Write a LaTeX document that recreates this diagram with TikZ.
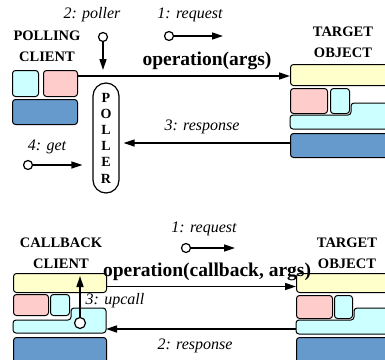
\documentclass[tikz,border=0pt]{standalone}
\usepackage{fontspec}
\setmainfont{Liberation Serif}
\usetikzlibrary{arrows.meta}

\definecolor{lcyan}{RGB}{204,255,255}
\definecolor{lpink}{RGB}{255,204,204}
\definecolor{lblue}{RGB}{102,153,204}
\definecolor{lyellow}{RGB}{255,255,204}

\begin{document}
\begin{tikzpicture}[x=1pt,y=-1pt,
    box/.style={draw,rounded corners=3pt,inner sep=0pt,anchor=north west,line width=1pt},
    port/.style={draw,circle,fill=white,inner sep=0pt,minimum size=9pt,line width=1.2pt},
    arr/.style={line width=1.4pt,-{Triangle[length=11pt,width=7pt]}},
    lbl/.style={font=\fontsize{16}{18}\selectfont\itshape,inner sep=0pt},
    ttl/.style={font=\fontsize{14.5}{21}\selectfont\bfseries,align=center,inner sep=0pt},
    optext/.style={font=\fontsize{19.5}{20}\selectfont\bfseries,inner sep=0pt}]
  \useasboundingbox (0,0) rectangle (385,359);
  \clip (0,0) rectangle (385,359);

  % ---------- polling model ----------
  % Client
  \node[ttl] (pclient) at (47,46) {POLLING\\CLIENT};
  \node[box,fill=lcyan,minimum width=26pt,minimum height=26pt] (pcyan) at (12,70) {};
  \node[box,fill=lpink,minimum width=34pt,minimum height=26pt] (ppink) at (43,70) {};
  \node[box,fill=lblue,minimum width=65pt,minimum height=25pt] (pblue) at (12,99) {};

  % Target object
  \node[ttl] (ptarget) at (343,42) {TARGET\\OBJECT};
  \node[box,fill=lyellow,minimum width=110pt,minimum height=21pt] (ptyellow) at (290,64) {};
  \node[box,fill=lpink,minimum width=37pt,minimum height=25pt] (ptpink) at (290,88) {};
  \node[box,fill=lcyan,minimum width=19pt,minimum height=25pt] (ptcyan) at (330,88) {};
  \draw[fill=lcyan,rounded corners=3pt,line width=1pt]
    (290,129) -- (290,115) -- (351,115) -- (351,103) -- (405,103) -- (405,129) -- cycle;
  \node[box,fill=lblue,minimum width=110pt,minimum height=24pt] (ptblue) at (290,133) {};

  % Poller
  \node[draw,rounded corners=13pt,line width=1.2pt,minimum width=26pt,minimum height=110pt,
        inner sep=0pt,align=center,font=\fontsize{14}{16.2}\selectfont\bfseries]
    (poller) at (106,138) {P\\O\\L\\L\\E\\R};

  % Operation
  \node[optext] (popname) at (207,61) {operation(args)};
  \draw[arr] (ppink.east |- 0,76) -- (ptyellow.west |- 0,76);

  % 1: request
  \node[lbl] (preqlbl) at (190,15) {1: request};
  \node[port] (preq) at (169,36) {};
  \coordinate (preqend) at (223,36);
  \draw[arr] (preq) -- (preqend);

  % 2: poller
  \node[lbl] (ppolllbl) at (92,15) {2: poller};
  \node[port] (ppoll) at (103,37) {};
  \coordinate (ppollend) at (103,70);
  \draw[arr] (ppoll) -- (ppollend);

  % 3: response
  \node[lbl] (presplbl) at (202,127) {3: response};
  \draw[arr,shorten >=4pt] (ptblue.west |- 0,143) -- (poller.east |- 0,143);

  % 4: get
  \node[lbl] (pgetlbl) at (47,147) {4: get};
  \node[port] (pget) at (28,165) {};
  \draw[arr,shorten >=10pt] (pget) -- (pget -| poller.west);

  % ---------- callback model ----------
  % Client
  \node[ttl] (cclient) at (61,253) {CALLBACK\\CLIENT};
  \node[box,fill=lyellow,minimum width=93pt,minimum height=19pt] (ccyellow) at (13,273) {};
  \node[box,fill=lpink,minimum width=35pt,minimum height=21pt] (ccpink) at (13,294) {};
  \node[box,fill=lcyan,minimum width=19pt,minimum height=21pt] (cccyan) at (50,294) {};
  \draw[fill=lcyan,rounded corners=3pt,line width=1pt]
    (13,333) -- (13,320) -- (71,320) -- (71,308) -- (106,308) -- (106,333) -- cycle;
  \node[box,fill=lblue,minimum width=93pt,minimum height=30pt] (ccblue) at (13,337) {};

  % Target object
  \node[ttl] (ctarget) at (347,253) {TARGET\\OBJECT};
  \node[box,fill=lyellow,minimum width=110pt,minimum height=19pt] (ctyellow) at (296,273) {};
  \node[box,fill=lpink,minimum width=36pt,minimum height=23pt] (ctpink) at (296,295) {};
  \node[box,fill=lcyan,minimum width=18pt,minimum height=23pt] (ctcyan) at (334,295) {};
  \draw[fill=lcyan,rounded corners=3pt,line width=1pt]
    (296,334) -- (296,320) -- (354,320) -- (354,308) -- (405,308) -- (405,334) -- cycle;
  \node[box,fill=lblue,minimum width=110pt,minimum height=30pt] (ctblue) at (296,337) {};

  % Operation
  \draw[arr] ([yshift=-3.5pt]ccyellow.east) -- ([yshift=-3.5pt]ctyellow.west);
  \node[optext] (copname) at (207,272) {operation(callback, args)};

  % 1: request
  \node[lbl] (creqlbl) at (204,229) {1: request};
  \node[port] (creq) at (186,248) {};
  \coordinate (creqend) at (235,248);
  \draw[arr] (creq) -- (creqend);

  % 2: response
  \coordinate (ctresp) at (296,329);
  \coordinate (ccresp) at (106,329);
  \draw[arr] (ctresp) -- (ccresp);
  \node[lbl] (cresplbl) at (195,346) {2: response};

  % 3: upcall
  \node[lbl] (cuplbl) at (115,301) {3: upcall};
  \node[port,minimum size=11pt] (cup) at (80,323) {};
  \coordinate (cupend) at (80,276);
  \draw[arr] (cup) -- (cupend);
\end{tikzpicture}
\end{document}
